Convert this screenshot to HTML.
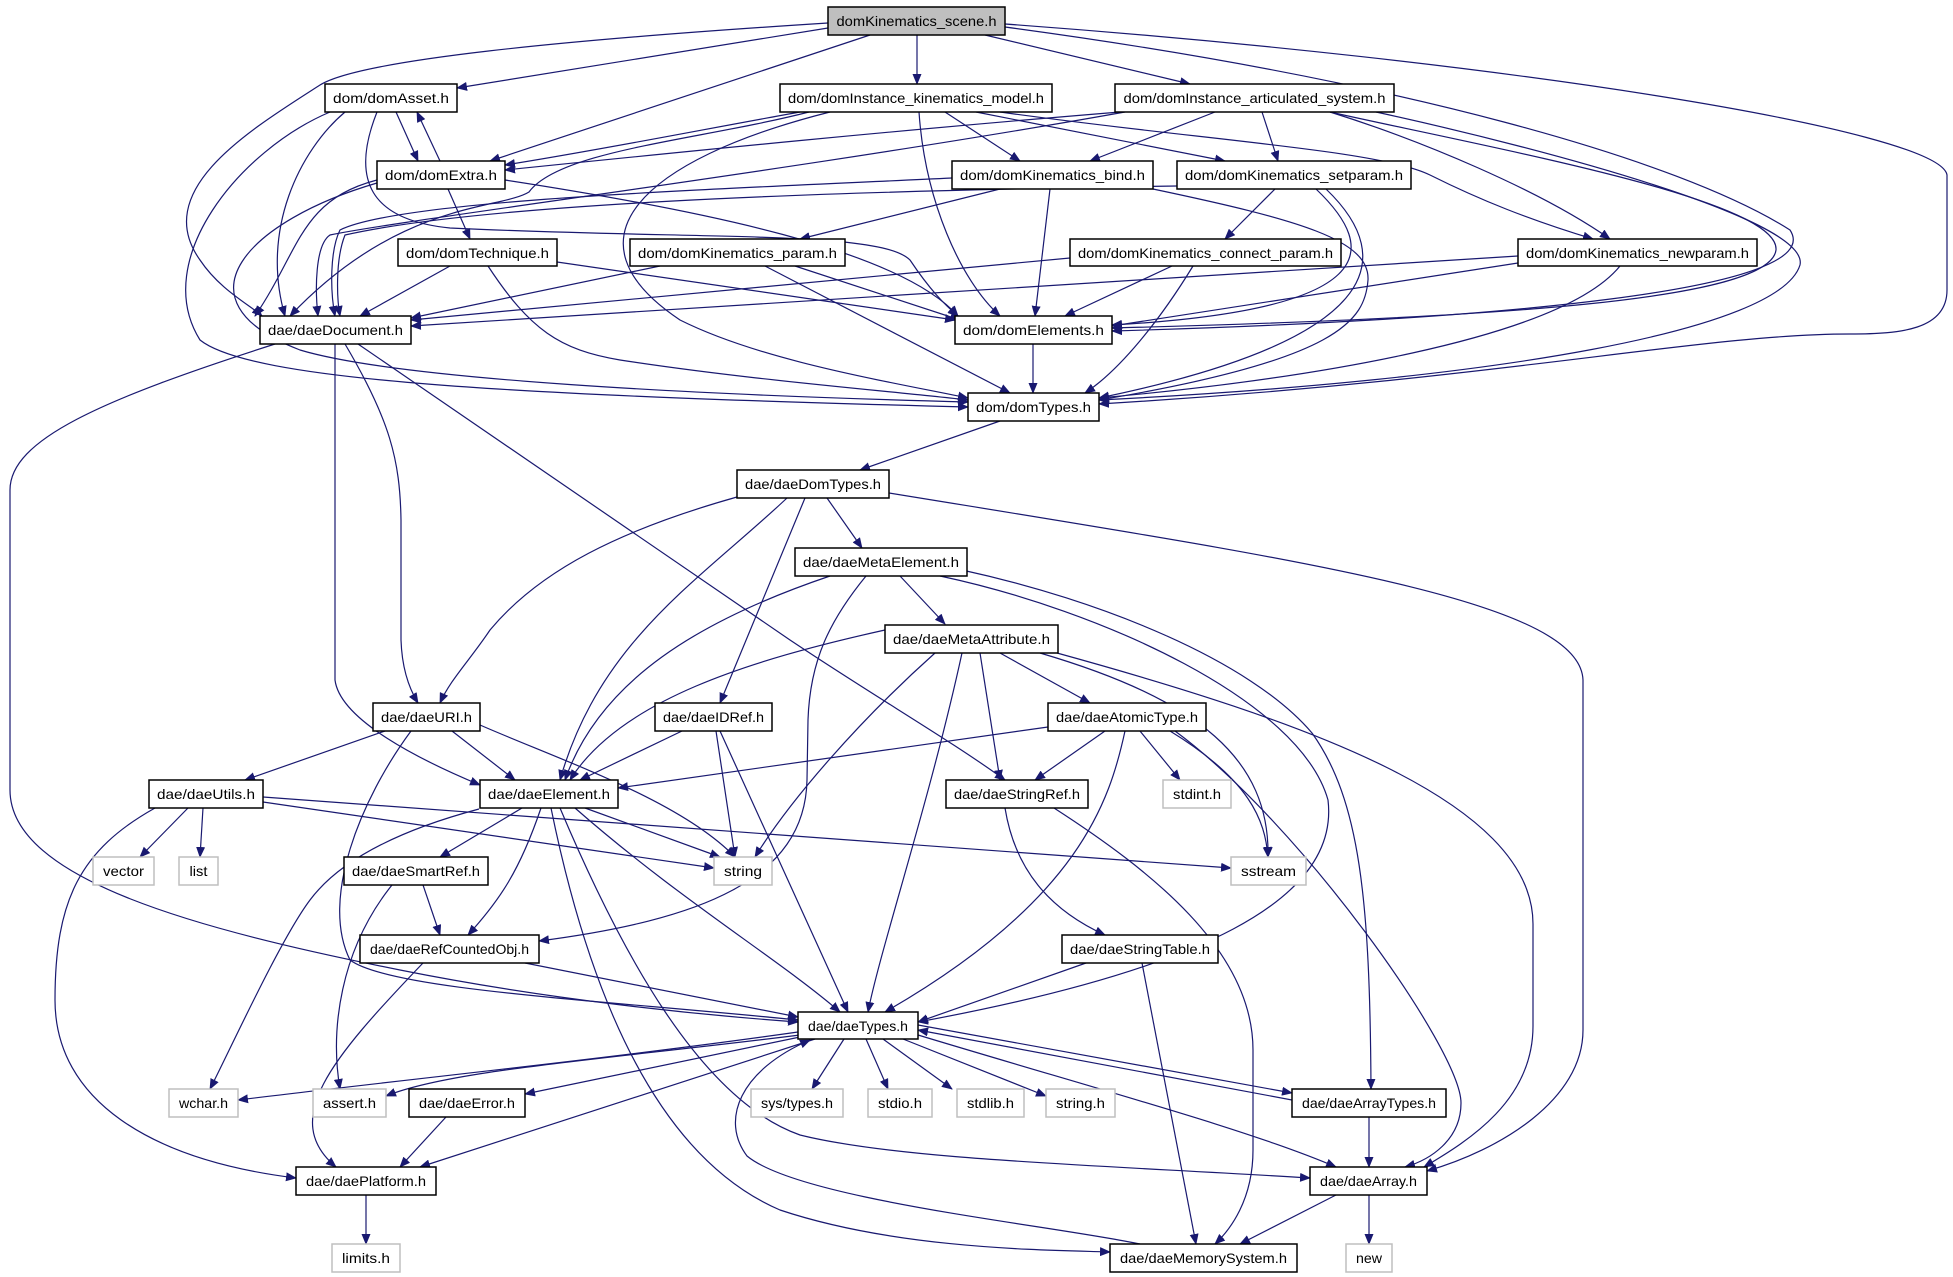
<!DOCTYPE html>
<html><head><meta charset="utf-8"><style>
html,body{margin:0;padding:0;background:#fff;}
svg{display:block;}
text{font-family:"Liberation Sans",sans-serif;font-size:14px;fill:#000;}
.e{fill:none;stroke:#191970;stroke-width:1.2;marker-end:url(#a);}
.n{fill:#fff;stroke:#000;stroke-width:1.5;}
.g{fill:#fff;stroke:#bfbfbf;stroke-width:1.5;}
</style></head><body>
<svg width="1953" height="1277" viewBox="0 0 1953 1277" xmlns="http://www.w3.org/2000/svg">
<defs><marker id="a" markerWidth="11" markerHeight="9" refX="10" refY="4.5" orient="auto" markerUnits="userSpaceOnUse"><path d="M0,0 L11,4.5 L0,9z" fill="#191970"/></marker></defs>
<g id="edges">
<path class="e" d="M828,28 L457,88"/>
<path class="e" d="M917,35 L917,84"/>
<path class="e" d="M985,35 L1190,84"/>
<path class="e" d="M870,35 L490,161"/>
<path class="e" d="M828,23 C560,40 360,60 320,85 C250,130 150,190 200,260 C220,290 250,305 262,316"/>
<path class="e" d="M1005,27 C1400,80 1680,160 1790,230 C1830,290 1500,320 1112,331"/>
<path class="e" d="M1005,24 C1500,60 1940,130 1947,175 L1947,290 C1947,330 1900,334 1850,334 C1700,334 1500,380 1099,404"/>
<path class="e" d="M396,112 L418,161"/>
<path class="e" d="M440,161 L417,112"/>
<path class="e" d="M330,112 C240,150 150,260 200,340 C250,380 500,395 968,407"/>
<path class="e" d="M345,112 C300,150 260,230 285,316"/>
<path class="e" d="M377,112 C350,180 370,220 450,228 C700,240 880,230 910,260 C930,290 945,305 958,316"/>
<path class="e" d="M377,180 C300,200 300,250 255,316"/>
<path class="e" d="M377,183 C250,220 170,300 300,350 C400,380 700,395 968,402"/>
<path class="e" d="M448,189 L470,239"/>
<path class="e" d="M505,180 C700,210 900,250 958,316"/>
<path class="e" d="M800,112 C700,130 600,150 505,165"/>
<path class="e" d="M1120,112 C900,130 700,150 505,170"/>
<path class="e" d="M809,112 C700,140 560,150 529,192 C500,210 400,200 290,316"/>
<path class="e" d="M830,112 C640,160 560,240 680,320 C760,360 880,380 968,398"/>
<path class="e" d="M919,112 C925,200 960,280 1000,316"/>
<path class="e" d="M945,112 L1020,161"/>
<path class="e" d="M976,112 L1225,161"/>
<path class="e" d="M1000,112 C1200,140 1380,150 1430,175 C1480,200 1530,220 1593,239"/>
<path class="e" d="M1215,112 L1090,161"/>
<path class="e" d="M1262,112 L1278,161"/>
<path class="e" d="M1330,112 C1420,140 1540,190 1610,239"/>
<path class="e" d="M1330,112 C1500,150 1780,200 1776,250 C1770,300 1500,318 1112,328"/>
<path class="e" d="M1376,112 C1550,150 1810,220 1800,265 C1780,330 1500,380 1099,400"/>
<path class="e" d="M1125,112 C800,170 400,220 330,235 C315,245 315,290 318,316"/>
<path class="e" d="M952,178 C700,190 400,200 340,230 C330,250 330,290 335,316"/>
<path class="e" d="M1000,189 L800,239"/>
<path class="e" d="M1050,189 L1035,316"/>
<path class="e" d="M1153,189 C1300,220 1370,240 1368,280 C1365,320 1340,360 1099,400"/>
<path class="e" d="M1177,186 C900,190 500,200 345,235 C335,260 337,300 340,316"/>
<path class="e" d="M1275,189 L1225,239"/>
<path class="e" d="M1316,189 C1380,250 1380,310 1112,325"/>
<path class="e" d="M1326,189 C1400,260 1380,340 1099,398"/>
<path class="e" d="M450,266 L360,316"/>
<path class="e" d="M557,262 L955,320"/>
<path class="e" d="M488,266 C530,330 560,350 620,360 C750,380 880,390 968,400"/>
<path class="e" d="M660,266 L411,318"/>
<path class="e" d="M795,266 L960,320"/>
<path class="e" d="M765,266 L1010,393"/>
<path class="e" d="M1070,258 L411,320"/>
<path class="e" d="M1172,266 L1065,316"/>
<path class="e" d="M1193,266 C1160,320 1120,370 1085,393"/>
<path class="e" d="M1518,256 L411,326"/>
<path class="e" d="M1518,263 L1112,326"/>
<path class="e" d="M1620,266 C1560,340 1300,380 1099,398"/>
<path class="e" d="M1033,344 L1033,393"/>
<path class="e" d="M275,344 C100,400 10,440 10,490 L10,790 C10,880 200,930 400,970 C550,1000 700,1015 798,1022"/>
<path class="e" d="M335,344 L335,680 C340,720 420,760 480,785"/>
<path class="e" d="M345,344 C390,420 400,460 401,520 L401,640 C402,670 410,690 418,703"/>
<path class="e" d="M358,344 L790,640 C880,700 950,740 1005,780"/>
<path class="e" d="M1000,421 L860,470"/>
<path class="e" d="M737,497 C620,530 540,570 490,630 C470,660 450,680 440,703"/>
<path class="e" d="M787,498 C700,580 600,640 560,780"/>
<path class="e" d="M805,498 L720,703"/>
<path class="e" d="M827,498 L862,548"/>
<path class="e" d="M889,493 C1300,560 1580,600 1583,680 L1583,1030 C1583,1100 1500,1150 1427,1171"/>
<path class="e" d="M830,576 C700,620 600,680 565,780"/>
<path class="e" d="M866,576 C830,620 810,660 808,720 L807,780 C805,880 700,920 539,941"/>
<path class="e" d="M900,576 L945,624"/>
<path class="e" d="M940,576 C1100,610 1300,700 1328,800 C1340,900 1200,970 918,1022"/>
<path class="e" d="M962,570 C1100,600 1250,660 1312,733 C1360,800 1370,900 1371,1089"/>
<path class="e" d="M885,630 C750,660 620,700 570,780"/>
<path class="e" d="M935,653 C860,720 790,800 755,857"/>
<path class="e" d="M962,653 C930,800 880,950 868,1012"/>
<path class="e" d="M980,653 L1000,780"/>
<path class="e" d="M1000,653 L1090,703"/>
<path class="e" d="M1040,653 C1200,700 1270,760 1268,857"/>
<path class="e" d="M1057,653 C1300,720 1533,800 1533,924 L1533,1026 C1533,1100 1470,1140 1424,1167"/>
<path class="e" d="M1048,727 L618,788"/>
<path class="e" d="M1105,731 L1035,780"/>
<path class="e" d="M1140,731 L1180,780"/>
<path class="e" d="M1170,731 C1250,780 1265,820 1268,857"/>
<path class="e" d="M1125,731 C1110,800 1080,900 885,1012"/>
<path class="e" d="M1175,731 C1300,823 1461,1050 1461,1103 C1461,1140 1430,1160 1405,1167"/>
<path class="e" d="M385,731 L245,780"/>
<path class="e" d="M452,731 L515,780"/>
<path class="e" d="M480,725 C560,760 680,800 735,857"/>
<path class="e" d="M411,731 C360,800 320,900 350,960 C390,990 600,1000 798,1020"/>
<path class="e" d="M682,731 L580,780"/>
<path class="e" d="M716,731 L735,857"/>
<path class="e" d="M720,731 L848,1012"/>
<path class="e" d="M188,808 L140,857"/>
<path class="e" d="M203,808 L200,857"/>
<path class="e" d="M263,802 L714,868"/>
<path class="e" d="M263,797 L1231,868"/>
<path class="e" d="M155,808 C80,850 55,900 55,1000 C55,1100 150,1160 296,1178"/>
<path class="e" d="M522,808 L440,857"/>
<path class="e" d="M585,808 L720,857"/>
<path class="e" d="M541,808 C520,870 500,900 468,935"/>
<path class="e" d="M575,808 C680,900 780,960 840,1012"/>
<path class="e" d="M479,809 C400,830 340,860 310,900 C280,940 230,1050 210,1089"/>
<path class="e" d="M551,808 C580,950 640,1150 780,1210 C900,1250 1050,1250 1110,1252"/>
<path class="e" d="M560,808 C620,950 700,1100 800,1135 C900,1160 1100,1165 1310,1178"/>
<path class="e" d="M1140,1244 C1050,1225 800,1200 747,1156 C720,1120 740,1070 810,1040"/>
<path class="e" d="M1005,808 C1015,870 1050,910 1105,935"/>
<path class="e" d="M1054,808 C1150,870 1253,950 1253,1050 L1253,1150 C1253,1200 1230,1230 1215,1244"/>
<path class="e" d="M423,885 L440,935"/>
<path class="e" d="M392,885 C340,950 330,1030 340,1089"/>
<path class="e" d="M525,963 L798,1017"/>
<path class="e" d="M423,963 C330,1060 280,1120 336,1167"/>
<path class="e" d="M1086,963 L918,1022"/>
<path class="e" d="M1142,963 L1196,1244"/>
<path class="e" d="M798,1032 C600,1060 400,1080 238,1100"/>
<path class="e" d="M800,1035 C600,1060 450,1070 386,1096"/>
<path class="e" d="M800,1037 L525,1094"/>
<path class="e" d="M815,1039 L420,1167"/>
<path class="e" d="M844,1039 L812,1089"/>
<path class="e" d="M866,1039 L888,1089"/>
<path class="e" d="M883,1039 L952,1089"/>
<path class="e" d="M903,1039 L1046,1096"/>
<path class="e" d="M918,1025 L1292,1093"/>
<path class="e" d="M1292,1100 L918,1030"/>
<path class="e" d="M918,1035 C1100,1090 1250,1130 1336,1167"/>
<path class="e" d="M1369,1117 L1369,1167"/>
<path class="e" d="M1336,1195 L1240,1244"/>
<path class="e" d="M1369,1195 L1369,1244"/>
<path class="e" d="M366,1195 L366,1244"/>
<path class="e" d="M446,1117 L400,1167"/>
</g>
<g id="nodes">
<rect x="828" y="7" width="177" height="28" fill="#bfbfbf" stroke="#000" stroke-width="1.5"/><text x="916.5" y="26" text-anchor="middle" textLength="160" lengthAdjust="spacingAndGlyphs">domKinematics_scene.h</text>
<rect class="n" x="325" y="84" width="132" height="28"/><text x="391" y="103" text-anchor="middle" textLength="116" lengthAdjust="spacingAndGlyphs">dom/domAsset.h</text>
<rect class="n" x="780" y="84" width="272" height="28"/><text x="916" y="103" text-anchor="middle" textLength="256" lengthAdjust="spacingAndGlyphs">dom/domInstance_kinematics_model.h</text>
<rect class="n" x="1115" y="84" width="279" height="28"/><text x="1254.5" y="103" text-anchor="middle" textLength="262" lengthAdjust="spacingAndGlyphs">dom/domInstance_articulated_system.h</text>
<rect class="n" x="377" y="161" width="128" height="28"/><text x="441" y="180" text-anchor="middle" textLength="112" lengthAdjust="spacingAndGlyphs">dom/domExtra.h</text>
<rect class="n" x="952" y="161" width="201" height="28"/><text x="1052.5" y="180" text-anchor="middle" textLength="185" lengthAdjust="spacingAndGlyphs">dom/domKinematics_bind.h</text>
<rect class="n" x="1177" y="161" width="234" height="28"/><text x="1294" y="180" text-anchor="middle" textLength="218" lengthAdjust="spacingAndGlyphs">dom/domKinematics_setparam.h</text>
<rect class="n" x="398" y="239" width="159" height="27"/><text x="477.5" y="258" text-anchor="middle" textLength="143" lengthAdjust="spacingAndGlyphs">dom/domTechnique.h</text>
<rect class="n" x="630" y="239" width="215" height="27"/><text x="737.5" y="258" text-anchor="middle" textLength="199" lengthAdjust="spacingAndGlyphs">dom/domKinematics_param.h</text>
<rect class="n" x="1070" y="239" width="271" height="27"/><text x="1205.5" y="258" text-anchor="middle" textLength="255" lengthAdjust="spacingAndGlyphs">dom/domKinematics_connect_param.h</text>
<rect class="n" x="1518" y="239" width="239" height="27"/><text x="1637.5" y="258" text-anchor="middle" textLength="223" lengthAdjust="spacingAndGlyphs">dom/domKinematics_newparam.h</text>
<rect class="n" x="260" y="316" width="151" height="28"/><text x="335.5" y="335" text-anchor="middle" textLength="135" lengthAdjust="spacingAndGlyphs">dae/daeDocument.h</text>
<rect class="n" x="955" y="316" width="157" height="28"/><text x="1033.5" y="335" text-anchor="middle" textLength="141" lengthAdjust="spacingAndGlyphs">dom/domElements.h</text>
<rect class="n" x="968" y="393" width="131" height="28"/><text x="1033.5" y="412" text-anchor="middle" textLength="115" lengthAdjust="spacingAndGlyphs">dom/domTypes.h</text>
<rect class="n" x="737" y="470" width="152" height="28"/><text x="813" y="489" text-anchor="middle" textLength="136" lengthAdjust="spacingAndGlyphs">dae/daeDomTypes.h</text>
<rect class="n" x="795" y="548" width="172" height="28"/><text x="881" y="567" text-anchor="middle" textLength="156" lengthAdjust="spacingAndGlyphs">dae/daeMetaElement.h</text>
<rect class="n" x="885" y="625" width="173" height="28"/><text x="971.5" y="644" text-anchor="middle" textLength="157" lengthAdjust="spacingAndGlyphs">dae/daeMetaAttribute.h</text>
<rect class="n" x="373" y="703" width="107" height="28"/><text x="426.5" y="722" text-anchor="middle" textLength="91" lengthAdjust="spacingAndGlyphs">dae/daeURI.h</text>
<rect class="n" x="655" y="703" width="117" height="28"/><text x="713.5" y="722" text-anchor="middle" textLength="101" lengthAdjust="spacingAndGlyphs">dae/daeIDRef.h</text>
<rect class="n" x="1048" y="703" width="158" height="28"/><text x="1127" y="722" text-anchor="middle" textLength="142" lengthAdjust="spacingAndGlyphs">dae/daeAtomicType.h</text>
<rect class="n" x="149" y="780" width="114" height="28"/><text x="206" y="799" text-anchor="middle" textLength="98" lengthAdjust="spacingAndGlyphs">dae/daeUtils.h</text>
<rect class="n" x="480" y="780" width="138" height="28"/><text x="549" y="799" text-anchor="middle" textLength="122" lengthAdjust="spacingAndGlyphs">dae/daeElement.h</text>
<rect class="n" x="946" y="780" width="142" height="28"/><text x="1017" y="799" text-anchor="middle" textLength="126" lengthAdjust="spacingAndGlyphs">dae/daeStringRef.h</text>
<rect class="g" x="1163" y="780" width="68" height="28"/><text x="1197" y="799" text-anchor="middle" textLength="48" lengthAdjust="spacingAndGlyphs">stdint.h</text>
<rect class="g" x="93" y="857" width="61" height="28"/><text x="123.5" y="876" text-anchor="middle" textLength="41" lengthAdjust="spacingAndGlyphs">vector</text>
<rect class="g" x="179" y="857" width="39" height="28"/><text x="198.5" y="876" text-anchor="middle" textLength="18" lengthAdjust="spacingAndGlyphs">list</text>
<rect class="n" x="344" y="857" width="144" height="28"/><text x="416" y="876" text-anchor="middle" textLength="128" lengthAdjust="spacingAndGlyphs">dae/daeSmartRef.h</text>
<rect class="g" x="714" y="857" width="58" height="28"/><text x="743" y="876" text-anchor="middle" textLength="38" lengthAdjust="spacingAndGlyphs">string</text>
<rect class="g" x="1231" y="857" width="75" height="28"/><text x="1268.5" y="876" text-anchor="middle" textLength="55" lengthAdjust="spacingAndGlyphs">sstream</text>
<rect class="n" x="360" y="935" width="179" height="28"/><text x="449.5" y="954" text-anchor="middle" textLength="159" lengthAdjust="spacingAndGlyphs">dae/daeRefCountedObj.h</text>
<rect class="n" x="1062" y="935" width="156" height="28"/><text x="1140" y="954" text-anchor="middle" textLength="140" lengthAdjust="spacingAndGlyphs">dae/daeStringTable.h</text>
<rect class="n" x="798" y="1012" width="120" height="27"/><text x="858" y="1031" text-anchor="middle" textLength="100" lengthAdjust="spacingAndGlyphs">dae/daeTypes.h</text>
<rect class="g" x="169" y="1089" width="69" height="28"/><text x="203.5" y="1108" text-anchor="middle" textLength="49" lengthAdjust="spacingAndGlyphs">wchar.h</text>
<rect class="g" x="313" y="1089" width="73" height="28"/><text x="349.5" y="1108" text-anchor="middle" textLength="53" lengthAdjust="spacingAndGlyphs">assert.h</text>
<rect class="n" x="409" y="1089" width="116" height="28"/><text x="467" y="1108" text-anchor="middle" textLength="96" lengthAdjust="spacingAndGlyphs">dae/daeError.h</text>
<rect class="g" x="751" y="1089" width="92" height="28"/><text x="797" y="1108" text-anchor="middle" textLength="72" lengthAdjust="spacingAndGlyphs">sys/types.h</text>
<rect class="g" x="868" y="1089" width="64" height="28"/><text x="900" y="1108" text-anchor="middle" textLength="44" lengthAdjust="spacingAndGlyphs">stdio.h</text>
<rect class="g" x="957" y="1089" width="67" height="28"/><text x="990.5" y="1108" text-anchor="middle" textLength="47" lengthAdjust="spacingAndGlyphs">stdlib.h</text>
<rect class="g" x="1046" y="1089" width="69" height="28"/><text x="1080.5" y="1108" text-anchor="middle" textLength="49" lengthAdjust="spacingAndGlyphs">string.h</text>
<rect class="n" x="1292" y="1089" width="154" height="28"/><text x="1369" y="1108" text-anchor="middle" textLength="134" lengthAdjust="spacingAndGlyphs">dae/daeArrayTypes.h</text>
<rect class="n" x="296" y="1167" width="140" height="28"/><text x="366" y="1186" text-anchor="middle" textLength="120" lengthAdjust="spacingAndGlyphs">dae/daePlatform.h</text>
<rect class="n" x="1310" y="1167" width="117" height="28"/><text x="1368.5" y="1186" text-anchor="middle" textLength="97" lengthAdjust="spacingAndGlyphs">dae/daeArray.h</text>
<rect class="g" x="332" y="1244" width="68" height="28"/><text x="366" y="1263" text-anchor="middle" textLength="48" lengthAdjust="spacingAndGlyphs">limits.h</text>
<rect class="n" x="1110" y="1244" width="187" height="28"/><text x="1203.5" y="1263" text-anchor="middle" textLength="167" lengthAdjust="spacingAndGlyphs">dae/daeMemorySystem.h</text>
<rect class="g" x="1346" y="1244" width="46" height="28"/><text x="1369" y="1263" text-anchor="middle" textLength="26" lengthAdjust="spacingAndGlyphs">new</text>
</g>
</svg>
</body></html>
